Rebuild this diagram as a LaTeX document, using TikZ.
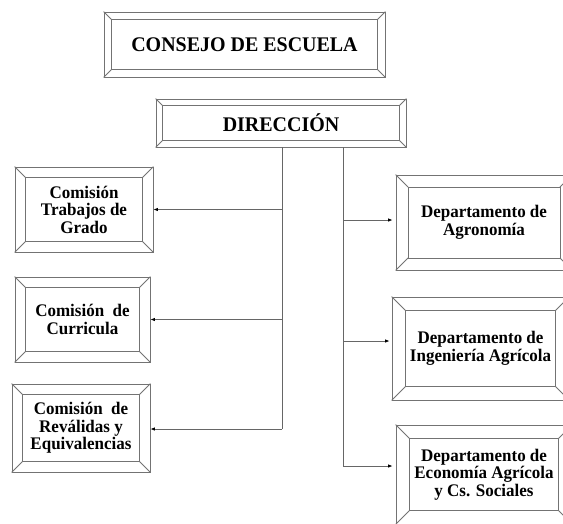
\documentclass[tikz,border=0pt]{standalone}
\usepackage{fontspec}
\setmainfont{Liberation Serif}[FakeStretch=0.96]
\usetikzlibrary{arrows.meta}
\tikzset{
  bev/.style={draw=black!55, line width=0.8pt, fill=white, inner sep=0pt, align=center,
              font=\fontsize{17.7}{17.5}\selectfont\bfseries},
  bevbig/.style={font=\fontsize{20.8}{22}\selectfont\bfseries},
  bevline/.style={draw=black!55, line width=0.8pt},
  conn/.style={draw=black!60, line width=0.8pt},
  arr/.style={conn, -{Latex[length=4.5pt,width=3.5pt,black]}}
}
\newcommand\bevbox[8][]{%
  \node[bev,#1, minimum width=#5pt, minimum height=#6pt] (#2) at (#3,#4) {#8};
  \draw[bevline] ([shift={(#7pt,-#7pt)}]#2.north west) rectangle ([shift={(-#7pt,#7pt)}]#2.south east);
  \draw[bevline] (#2.north west) -- ++(#7pt,-#7pt) (#2.north east) -- ++(-#7pt,-#7pt)
                 (#2.south west) -- ++(#7pt,#7pt) (#2.south east) -- ++(-#7pt,#7pt);
}
\begin{document}
\begin{tikzpicture}[x=1pt,y=-1pt]
\useasboundingbox (0,0) rectangle (563,523);
\clip (0,0) rectangle (563,523);
\fill[white] (0,0) rectangle (563,523);

\bevbox[bevbig]{consejo}{244.5}{44.5}{281}{65}{8}{CONSEJO DE ESCUELA}
\bevbox[bevbig]{dir}{281}{123}{250}{48}{7}{DIRECCIÓN}

\bevbox{c1}{84}{209.5}{138}{85}{11}{Comisión\\Trabajos de\\Grado}
\bevbox{c2}{82.5}{319.5}{135}{85}{11}{Comisión\ \ de\\Curricula}
\bevbox{c3}{81}{428}{138}{88}{11}{Comisión\ \ de\\Reválidas y\\Equivalencias}

\bevbox{d1}{484}{222.5}{176}{95}{12.5}{Departamento de\\Agronomía}
\bevbox{d2}{480.5}{348.5}{177}{103}{14}{Departamento de\\Ingeniería Agrícola}
\bevbox{d3}{484}{474.5}{176}{99}{14}{Departamento de\\Economía Agrícola\\y Cs. Sociales}

\coordinate (jl) at (282,429);
\coordinate (jr) at (343,466);

\draw[conn] (jl |- dir.south) -- (jl);
\draw[conn] (jr |- dir.south) -- (jr);

\draw[arr] (jl |- c1.east) -- (c1.east);
\draw[arr] (jl |- c2.east) -- (c2.east);
\draw[arr] (jl) -- (c3.east |- jl);

\draw[arr, shorten >=3pt] ([yshift=2.5pt]jr |- d1.west) -- ([yshift=2.5pt]d1.west);
\draw[arr, shorten >=2pt] ([yshift=7.5pt]jr |- d2.west) -- ([yshift=7.5pt]d2.west);
\draw[arr, shorten >=3pt] (jr) -- (d3.west |- jr);
\end{tikzpicture}
\end{document}
